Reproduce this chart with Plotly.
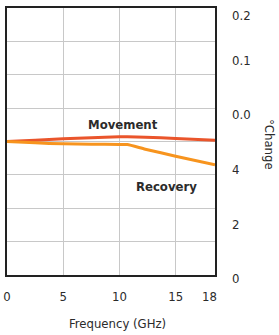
import plotly.graph_objects as go

# Data
freq_ghz = [0, 2.5, 5, 7.5, 10, 10.7, 12.3, 15, 18.5]
movement = [4.00, 4.04, 4.08, 4.11, 4.14, 4.14, 4.13, 4.09, 4.04]
recovery = [4.00, 3.96, 3.93, 3.92, 3.91, 3.91, 3.77, 3.56, 3.30]

x_tick_vals = [0, 5, 10, 15, 18]
x_tick_text = ["0", "5", "10", "15", "18"]
x_grid_vals = [5, 10, 15]

right_tick_text = ["0", "2", "4", "0.0", "0.1", "0.2"]
right_tick_pos = [0.0105, 0.2107, 0.4177, 0.6243, 0.8278, 0.9963]

series_labels = ["Movement", "Recovery"]

FONT = "DejaVu Sans Condensed, DejaVu Sans, sans-serif"
GRID = "#c8c8c8"
TXT = "#2b2b2b"

fig = go.Figure()
fig.add_trace(go.Scatter(x=freq_ghz, y=movement, mode="lines", name=series_labels[0],
                         line=dict(color="#ea552b", width=3, shape="spline", smoothing=0.6)))
fig.add_trace(go.Scatter(x=freq_ghz, y=recovery, mode="lines", name=series_labels[1],
                         line=dict(color="#f7941e", width=3, shape="spline", smoothing=0.6)))
# invisible trace to activate the right axis
fig.add_trace(go.Scatter(x=[0], y=[0], yaxis="y2", mode="markers",
                         marker=dict(opacity=0), showlegend=False, hoverinfo="skip"))

fig.add_annotation(x=10.3, y=4.51, xref="x", yref="y", text="<b>" + series_labels[0] + "</b>",
                   showarrow=False, font=dict(family=FONT, size=13, color=TXT))
fig.add_annotation(x=14.23, y=2.65, xref="x", yref="y", text="<b>" + series_labels[1] + "</b>",
                   showarrow=False, font=dict(family=FONT, size=13, color=TXT))

fig.add_annotation(x=270, y=144, xref="paper", yref="paper", text="°Change", showarrow=False,
                   textangle=90, font=dict(family=FONT, size=13, color=TXT))
fig.add_annotation(x=117, y=323, xref="paper", yref="paper", text="Frequency (GHz)", showarrow=False,
                   font=dict(family=FONT, size=13, color=TXT))

W, H = 279, 335
l, r, t, b = 7, 64, 8, 60

fig.update_layout(
    width=W, height=H,
    margin=dict(l=l, r=r, t=t, b=b, autoexpand=False),
    paper_bgcolor="white", plot_bgcolor="white",
    showlegend=False,
    font=dict(family=FONT, size=13, color=TXT),
    xaxis=dict(range=[0, 18.5], tickvals=x_tick_vals, ticktext=x_tick_text,
               showgrid=False, zeroline=False, showline=True, linecolor="#222222",
               linewidth=1.5, mirror=True, ticks="", ticklabelstandoff=9, automargin=False,
               minor=dict(tickvals=x_grid_vals, showgrid=True, gridcolor=GRID, gridwidth=1, ticks=""),
               tickfont=dict(family=FONT, size=13, color=TXT)),
    yaxis=dict(range=[0, 8], dtick=1, showgrid=True, gridcolor=GRID, gridwidth=1,
               showticklabels=False, zeroline=False, showline=True, linecolor="#222222",
               linewidth=1.5, mirror=True, ticks="", automargin=False),
    yaxis2=dict(overlaying="y", side="right", range=[0, 1], tickvals=right_tick_pos,
                ticktext=right_tick_text, showgrid=False, zeroline=False, showline=False,
                ticks="", ticklabelstandoff=16, ticklabelshift=6, automargin=False,
                tickfont=dict(family=FONT, size=13, color=TXT)),
)

# convert pixel-positioned annotations to paper coords
pw, ph = W - l - r, H - t - b
for ann in fig.layout.annotations:
    if ann.xref == "paper":
        px, py = ann.x, ann.y
        ann.x = (px - l) / pw
        ann.y = 1 - (py - t) / ph
        ann.xanchor = "center"
        ann.yanchor = "middle"

fig.write_html("out.html", config={"displayModeBar": False},
               post_script="document.body.style.margin='0';document.body.style.overflow='hidden';")
